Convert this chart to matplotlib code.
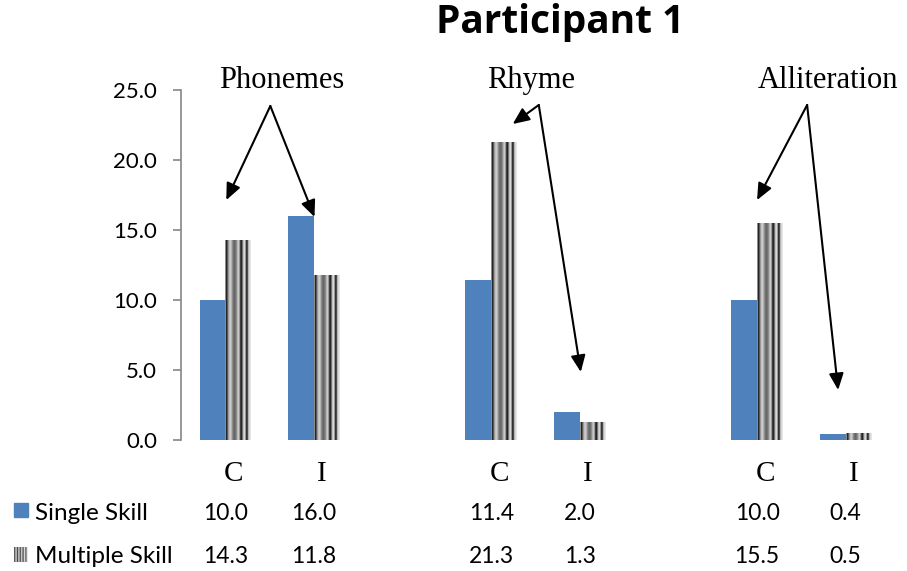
import numpy as np
import matplotlib
matplotlib.use('Agg')
import matplotlib.pyplot as plt
from matplotlib.patches import Rectangle

plt.rcParams['font.family'] = ['Lato', 'DejaVu Sans']

# ---- data ----
categories = ['C', 'I', '', 'C', 'I', '', 'C', 'I']
single_skill = [10.0, 16.0, np.nan, 11.4, 2.0, np.nan, 10.0, 0.4]
multiple_skill = [14.3, 11.8, np.nan, 21.3, 1.3, np.nan, 15.5, 0.5]
series_names = ['Single Skill', 'Multiple Skill']
skills = ['Phonemes', 'Rhyme', 'Alliteration']
y_ticks = [0, 5, 10, 15, 20, 25]
title = 'Participant 1'

# ---- annotation layout (label x, apex, arrow tips) in data coords ----
skill_label_x = [0.633, 3.45, 6.80]
skill_apex = [(0.508, 23.86), (3.537, 23.93), (6.565, 23.93)]
skill_tips = [[(0.011, 17.14), (1.006, 15.93)],
              [(3.243, 22.57), (4.011, 4.86)],
              [(6.0, 17.14), (6.915, 3.57)]]

W, H = 907, 571
BLUE = '#4F81BD'
GRAY = '#868686'
stripe = np.array([0.55, 0.15, 0.35, 0.6, 0.75, 0.8, 0.7, 0.55, 0.45, 0.4, 0.45,
                   0.55, 0.7, 0.8, 0.6, 0.25, 0.15, 0.45, 0.75, 0.85, 0.6, 0.2,
                   0.3, 0.7, 0.85, 0.9])
key_stripe = np.array([0.35, 0.85, 0.3, 0.85, 0.3, 0.85, 0.3, 0.85, 0.35, 0.9])

fig = plt.figure(figsize=(W / 100, H / 100), dpi=100)
ax = fig.add_axes([181 / W, 131 / H, 709 / W, 350 / H])

x = np.arange(len(categories))
bw = 0.29
b1 = ax.bar(x - bw / 2, single_skill, bw, color=BLUE, zorder=2, linewidth=0)
b2 = ax.bar(x + bw / 2, multiple_skill, bw, color='#9a9a9a', zorder=2, linewidth=0)
for p in b2:
    h = p.get_height()
    if not np.isfinite(h):
        continue
    x0, w = p.get_x(), p.get_width()
    im = ax.imshow(stripe[None, :], cmap='gray', vmin=0, vmax=1,
                   extent=[x0, x0 + w, 0, h], aspect='auto',
                   interpolation='bilinear', zorder=3)
    im.set_clip_path(p)

ax.set_xlim(-0.5, len(categories) - 0.5)
ax.set_ylim(0, 25)
ax.set_yticks(y_ticks)
ax.set_yticklabels([f'{t:.1f}' for t in y_ticks])
ax.set_xticks([])
for s in ['top', 'right', 'bottom']:
    ax.spines[s].set_visible(False)
ax.spines['left'].set_color(GRAY)
ax.spines['left'].set_linewidth(1.2)
ax.tick_params(axis='y', length=5.8, width=1.2, color=GRAY, pad=11.5, labelsize=16)

# category labels
for xi, c in zip(x, categories):
    if c:
        ax.annotate(c, xy=(xi, 0), xytext=(8, -41), textcoords='offset pixels',
                    ha='center', va='baseline', fontsize=21,
                    family='Liberation Serif', annotation_clip=False)

# data table
for vals, off in [(single_skill, -80), (multiple_skill, -123)]:
    for xi, v in zip(x, vals):
        if np.isfinite(v):
            ax.annotate(f'{v:.1f}', xy=(xi, 0), xytext=(0, off),
                        textcoords='offset pixels', ha='center', va='baseline',
                        fontsize=16.5, annotation_clip=False)

fig.text(35 / W, 1 - 520 / H, series_names[0], va='baseline', fontsize=17.5)
fig.text(35 / W, 1 - 563 / H, series_names[1], va='baseline', fontsize=17.5)
fig.add_artist(Rectangle((14 / W, 1 - 517 / H), 14 / W, 14 / H,
                         transform=fig.transFigure, color=BLUE))
kax = fig.add_axes([14 / W, 1 - 562 / H, 14 / W, 15 / H])
kax.imshow(key_stripe[None, :], cmap='gray', vmin=0, vmax=1, aspect='auto',
           interpolation='bilinear')
kax.axis('off')

# skill annotations
for name, lx, apex, tips in zip(skills, skill_label_x, skill_apex, skill_tips):
    ax.text(lx, 25.14, name, ha='center', va='baseline', fontsize=22,
            family='Liberation Serif', clip_on=False)
    for tip in tips:
        ax.annotate('', xy=tip, xytext=apex, annotation_clip=False,
                    arrowprops=dict(arrowstyle='-|>,head_length=0.5,head_width=0.22',
                                    color='black', lw=1.5, shrinkA=0, shrinkB=0,
                                    mutation_scale=20))

fig.text(560 / W, 1 - 33 / H, title, ha='center', va='baseline',
         fontsize=28, fontweight='bold', family=['Open Sans', 'DejaVu Sans'])

fig.savefig('out.png', dpi=100)
